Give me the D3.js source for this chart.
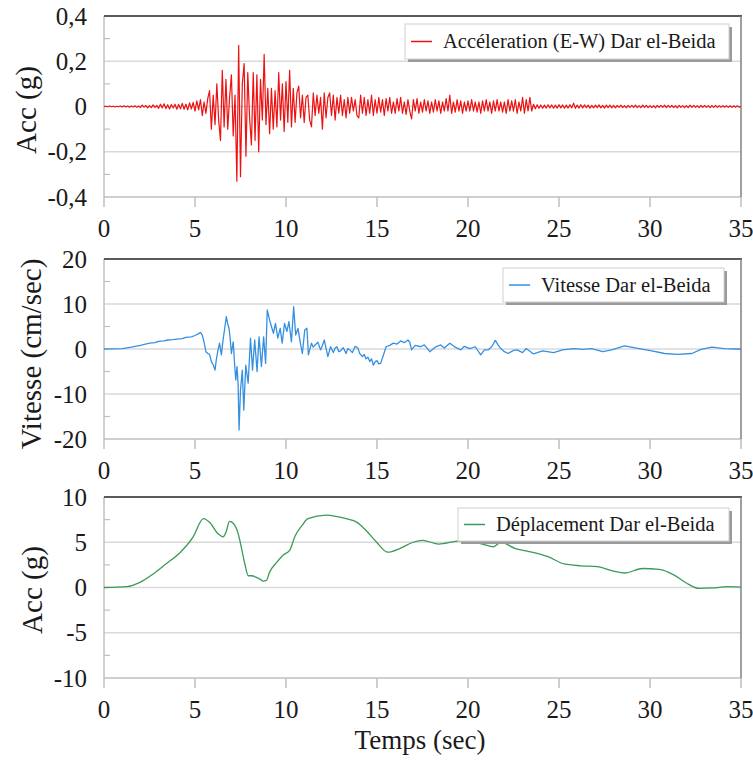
<!DOCTYPE html>
<html>
<head>
<meta charset="utf-8">
<script src="https://cdn.jsdelivr.net/npm/d3@7"></script>
<style>
  body { margin: 0; background: #fff; }
  svg { font-family: "Liberation Serif", "Times New Roman", serif; }
</style>
</head>
<body>
<div id="chart"></div>
<script>
// --- Data ---
const xTicks = [0, 5, 10, 15, 20, 25, 30, 35];
const accTicks = [-0.4, -0.2, 0, 0.2, 0.4];
const velTicks = [-20, -10, 0, 10, 20];
const dispTicks = [-10, -5, 0, 5, 10];

// acceleration (g), one sample every 0.1 s, one row per second
const ACC_STEP = 0.1;
const accValues = [
  0, 0.001, -0.001, 0.002, -0.001, 0.001, -0.002, 0.001, -0.001, 0.002,
  -0.002, 0.003, -0.002, 0.002, -0.003, 0.002, -0.002, 0.003, -0.003, 0.002,
  -0.004, 0.006, -0.003, 0.005, -0.006, 0.004, -0.005, 0.007, -0.004, 0.005,
  -0.008, 0.01, -0.006, 0.012, -0.009, 0.008, -0.011, 0.009, -0.007, 0.01,
  -0.012, 0.009, -0.01, 0.014, -0.012, 0.01, -0.015, 0.016, -0.011, 0.018,
  -0.02, 0.025, -0.015, 0.03, -0.04, 0.02, -0.03, 0.035, 0.07, -0.1,
  0.05, -0.08, 0.1, -0.06, -0.15, 0.16, -0.09, 0.12, -0.1, 0.04,
  0.14, -0.13, 0.05, -0.33, 0.27, -0.31, 0.1, 0.19, -0.22, 0.15,
  -0.05, -0.17, 0.15, -0.15, 0.14, -0.2, 0.12, -0.06, 0.23, -0.08,
  0.08, -0.12, 0.08, -0.1, 0.07, -0.09, 0.15, -0.06, 0.1, -0.11,
  0.11, -0.07, 0.16, -0.09, 0.08, -0.07, 0.06, 0.09, -0.05, 0.05,
  -0.07, 0.04, 0.05, -0.06, -0.09, 0.06, -0.04, 0.05, -0.03, 0.04,
  -0.1, 0.06, -0.05, 0.04, 0.06, -0.04, 0.05, -0.06, 0.04, -0.03,
  0.05, -0.04, 0.03, -0.05, 0.04, -0.03, 0.04, -0.02, 0.03, -0.04,
  -0.05, 0.05, -0.03, 0.04, -0.04, 0.03, -0.03, 0.05, -0.04, 0.03,
  -0.03, 0.04, -0.025, 0.03, -0.04, 0.035, -0.02, 0.04, -0.03, 0.02,
  -0.03, 0.035, -0.02, 0.04, -0.03, 0.02, -0.035, 0.03, -0.02, -0.055,
  0.03, -0.02, 0.035, -0.03, 0.02, -0.025, 0.03, -0.02, 0.025, -0.03,
  0.02, -0.025, 0.03, -0.02, 0.025, -0.03, 0.02, -0.02, 0.035, -0.02,
  0.05, -0.03, 0.02, -0.025, 0.03, -0.02, 0.025, -0.03, 0.02, -0.02,
  0.025, -0.02, 0.03, -0.02, 0.02, -0.025, 0.02, -0.03, 0.025, -0.02,
  0.03, -0.02, 0.02, -0.03, 0.025, -0.02, 0.03, -0.02, 0.02, -0.025,
  0.02, -0.03, 0.03, -0.02, 0.025, -0.02, 0.03, -0.03, 0.02, -0.02,
  0.04, -0.03, 0.03, -0.02, 0.04, -0.02, 0.01, -0.01, 0.008, -0.008,
  0.007, -0.008, 0.006, -0.007, 0.008, -0.006, 0.007, -0.008, 0.006, -0.007,
  0.008, -0.006, 0.007, -0.008, 0.006, -0.007, 0.008, -0.006, 0.015, -0.008,
  0.006, -0.007, 0.008, -0.006, 0.007, -0.005, 0.006, -0.007, 0.005, -0.006,
  0.006, -0.005, 0.007, -0.006, 0.005, -0.007, 0.006, -0.005, 0.006, -0.006,
  0.005, -0.006, 0.005, -0.004, 0.006, -0.005, 0.004, -0.006, 0.005, -0.004,
  0.005, -0.004, 0.006, -0.005, 0.004, -0.005, 0.006, -0.004, 0.005, -0.005,
  0.004, -0.005, 0.004, -0.006, 0.005, -0.004, 0.005, -0.004, 0.006, -0.005,
  0.005, -0.004, 0.005, -0.005, 0.004, -0.006, 0.005, -0.004, 0.004, -0.005,
  0.004, -0.005, 0.006, -0.004, 0.005, -0.004, 0.004, -0.005, 0.005, -0.004,
  0.005, -0.004, 0.004, -0.005, 0.004, -0.004, 0.005, -0.004, 0.004, -0.003,
  0.004, -0.003, 0.004, -0.004, 0.003, -0.004, 0.003, -0.003, 0.004, -0.003,
  0
];

// velocity (cm/sec): [time, value]
const velPoints = [
  [0, 0], [0.5, 0.02], [1, 0.1], [1.5, 0.4], [2, 0.8], [2.5, 1.3], [2.8, 1.4],
  [3, 1.7], [3.3, 1.8], [3.5, 2.0], [3.8, 2.1], [4, 2.2], [4.3, 2.3], [4.5, 2.6],
  [4.8, 2.7], [5, 3.0], [5.2, 3.4], [5.3, 3.7], [5.4, 3.1], [5.5, 1.5], [5.6, -0.6],
  [5.7, -1.0], [5.8, -1.2], [5.9, -2.8], [6.0, -3.5], [6.1, -4.7], [6.17, -2.4],
  [6.25, -0.5], [6.35, 1.3], [6.45, -1.3], [6.54, 2.0], [6.63, 4.5], [6.72, 7.2],
  [6.8, 5.5], [6.87, 4.6], [6.94, 2.0], [7.0, -1.0], [7.1, 1.6], [7.17, -3.0],
  [7.24, -6.9], [7.31, -3.9], [7.37, -8], [7.42, -18], [7.5, -9.1], [7.6, -4.7],
  [7.68, -13.6], [7.79, -3.6], [7.92, -7.6], [8.05, 2.4], [8.16, -4.7], [8.28, 2.0],
  [8.41, -5.0], [8.52, 2.7], [8.65, -3.9], [8.77, 2.7], [8.88, -3.2], [8.97, 8.7],
  [9.1, 6.4], [9.2, 5.0], [9.31, 3.5], [9.42, 5.7], [9.55, 2.4], [9.68, 4.6],
  [9.79, 1.3], [9.92, 5.7], [10.05, 3.9], [10.16, 6.1], [10.3, 1.6], [10.42, 9.4],
  [10.53, 3.1], [10.66, 4.6], [10.79, 1.3], [10.9, -1.0], [11.03, 4.2], [11.15, 4.6],
  [11.23, -1.3], [11.4, 1.3], [11.5, 0.4], [11.6, 0.9], [11.75, 1.5], [11.9, -0.2],
  [12.0, 0.8], [12.1, 2.0], [12.2, 0.2], [12.3, -1.7], [12.45, 0.5], [12.6, -0.8],
  [12.7, 0.2], [12.8, 0.5], [12.9, -0.6], [13.0, -0.4], [13.15, 0.3], [13.3, -1.0],
  [13.4, 0.1], [13.5, -0.2], [13.65, -0.8], [13.8, 0.6], [13.95, 0.2], [14.05, -1.0],
  [14.2, -1.7], [14.3, -1.2], [14.4, -2.2], [14.5, -1.8], [14.6, -2.8], [14.7, -2.2],
  [14.8, -3.6], [14.9, -2.8], [15.0, -2.6], [15.1, -3.3], [15.2, -3.2], [15.35, -1.4],
  [15.5, 0.5], [15.7, 0.8], [15.9, 1.3], [16.1, 1.1], [16.3, 1.8], [16.5, 1.4],
  [16.7, 2.0], [16.8, 1.5], [16.9, -0.2], [17.1, 0.8], [17.4, 0.5], [17.6, 0.9],
  [17.9, -0.6], [18.2, 0.4], [18.5, 0.9], [18.7, 0.2], [19.0, 1.3], [19.3, 0.4],
  [19.6, -0.2], [19.8, 0.6], [20.1, 0.1], [20.4, 0.5], [20.7, -1.3], [20.9, -0.2],
  [21.1, -0.2], [21.3, 0.5], [21.5, 1.9], [21.65, 0.9], [21.8, 0.1], [22.0, -0.6],
  [22.2, -1.0], [22.5, -0.3], [22.7, -0.2], [23.0, -0.8], [23.2, 0.1], [23.4, -0.5],
  [23.6, -1.1], [24.1, -0.4], [24.7, -0.8], [25.2, -0.2], [25.8, 0.1], [26.3, -0.1],
  [26.8, 0.1], [27.4, -0.6], [27.9, -0.2], [28.6, 0.7], [29.4, 0.1], [30.1, -0.4],
  [30.8, -1.0], [31.5, -1.2], [32.3, -1.0], [32.8, -0.1], [33.4, 0.4], [34.1, 0.1],
  [34.7, 0.0], [35, 0.0]
];

// displacement: [time, value]
const dispPoints = [
  [0, 0], [1.24, 0.1], [2.0, 0.6], [2.7, 1.5], [3.4, 2.6], [4.2, 3.9], [4.9, 5.6],
  [5.46, 7.6], [5.8, 7.2], [6.28, 5.9], [6.55, 5.6], [6.7, 6.1], [6.9, 7.3],
  [7.1, 7.1], [7.38, 5.9], [7.56, 4.3], [7.74, 2.6], [7.93, 1.3], [8.1, 1.3],
  [8.4, 1.1], [8.6, 0.9], [8.75, 0.7], [8.93, 0.8], [9.1, 1.7], [9.5, 2.8],
  [9.85, 3.6], [10.2, 4.1], [10.5, 5.7], [10.9, 6.9], [11.2, 7.6], [12.2, 8.0],
  [13.3, 7.6], [13.9, 7.2], [14.4, 6.3], [14.98, 5.0], [15.6, 3.9], [16.25, 4.3],
  [16.98, 5.0], [17.5, 5.2], [18.4, 4.8], [19.3, 5.1], [20.0, 5.2], [20.8, 4.8],
  [21.4, 4.5], [21.8, 5.0], [22.6, 4.3], [23.3, 4.0], [24.4, 3.4], [25.3, 2.6],
  [26.2, 2.4], [27.1, 2.3], [28.0, 1.8], [28.6, 1.6], [29.6, 2.1], [30.5, 2.0],
  [31.3, 1.4], [32.0, 0.5], [32.7, -0.1], [33.5, -0.05], [34.2, 0.1], [35, 0.05]
];

const panels = [
  {
    top: 16, bottom: 197, domain: [-0.4, 0.4], ticks: accTicks, minor: 0.1,
    points: accValues.map((v, i) => [i * ACC_STEP, v]),
    color: "#ee1111", width: 1.2, curve: d3.curveLinear,
    title: "Acc (g)", titleX: 26, titleY: 110,
    legend: "Accéleration (E-W) Dar el-Beida", lx: 405, ly: 24, lw: 324, lh: 35
  },
  {
    top: 259, bottom: 439, domain: [-20, 20], ticks: velTicks, minor: 5,
    points: velPoints, color: "#3590e0", width: 1.3, curve: d3.curveLinear,
    title: "Vitesse (cm/sec)", titleX: 31, titleY: 354,
    legend: "Vitesse Dar el-Beida", lx: 503, ly: 268, lw: 221, lh: 34
  },
  {
    top: 497, bottom: 678, domain: [-10, 10], ticks: dispTicks, minor: 2.5,
    points: dispPoints, color: "#3a9a58", width: 1.3, curve: d3.curveMonotoneX,
    title: "Acc (g)", titleX: 32, titleY: 590,
    legend: "Déplacement Dar el-Beida", lx: 458, ly: 508, lw: 271, lh: 33
  }
];

const W = 753, H = 760;
const left = 104, right = 741;
const fmt = d => d === 0 ? "0" : String(d).replace(".", ",");

const svg = d3.select("#chart").append("svg")
  .attr("width", W).attr("height", H);

const x = d3.scaleLinear().domain([0, 35]).range([left, right]);

panels.forEach(p => {
  const y = d3.scaleLinear().domain(p.domain).range([p.bottom, p.top]);
  const g = svg.append("g");

  // gridlines at inner major ticks
  g.selectAll(".grid")
    .data(p.ticks.filter(t => t !== p.domain[0] && t !== p.domain[1]))
    .join("line")
    .attr("x1", left).attr("x2", right)
    .attr("y1", d => y(d)).attr("y2", d => y(d))
    .attr("stroke", "#d9d9d9").attr("stroke-width", 1.5);

  // minor ticks inside on the y axis
  const minorVals = d3.range(p.domain[0] + p.minor, p.domain[1], p.minor * 2);
  g.selectAll(".minor")
    .data(minorVals)
    .join("line")
    .attr("x1", left).attr("x2", left + 6)
    .attr("y1", d => y(d)).attr("y2", d => y(d))
    .attr("stroke", "#bfbfbf").attr("stroke-width", 1.2);

  // frame: left / bottom axis lines, darker top / right
  g.append("line").attr("x1", left).attr("x2", left)
    .attr("y1", p.top).attr("y2", p.bottom)
    .attr("stroke", "#bfbfbf").attr("stroke-width", 1.5);
  g.append("line").attr("x1", left).attr("x2", right)
    .attr("y1", p.bottom).attr("y2", p.bottom)
    .attr("stroke", "#bfbfbf").attr("stroke-width", 1.5);
  g.append("line").attr("x1", left).attr("x2", right + 1)
    .attr("y1", p.top).attr("y2", p.top)
    .attr("stroke", "#5a5a5a").attr("stroke-width", 1.8);
  g.append("line").attr("x1", right).attr("x2", right)
    .attr("y1", p.top).attr("y2", p.bottom)
    .attr("stroke", "#808080").attr("stroke-width", 1.5);

  // x ticks below the axis
  g.selectAll(".xt")
    .data(xTicks)
    .join("line")
    .attr("x1", d => x(d)).attr("x2", d => x(d))
    .attr("y1", p.bottom).attr("y2", p.bottom + 10)
    .attr("stroke", "#bfbfbf").attr("stroke-width", 1.5);

  g.selectAll(".xl")
    .data(xTicks)
    .join("text")
    .attr("x", d => x(d)).attr("y", p.bottom + 40)
    .attr("text-anchor", "middle")
    .attr("font-size", 25).attr("fill", "#1a1a1a")
    .text(d => d);

  g.selectAll(".yl")
    .data(p.ticks)
    .join("text")
    .attr("x", 87).attr("y", d => y(d))
    .attr("dy", "0.34em")
    .attr("text-anchor", "end")
    .attr("font-size", 25).attr("fill", "#1a1a1a")
    .text(fmt);

  // axis title
  g.append("text")
    .attr("transform", `translate(${p.titleX},${p.titleY}) rotate(-90)`)
    .attr("text-anchor", "middle")
    .attr("dy", "0.35em")
    .attr("font-size", 29).attr("fill", "#1a1a1a")
    .text(p.title);

  // series
  const line = d3.line().curve(p.curve).x(d => x(d[0])).y(d => y(d[1]));
  g.append("path")
    .datum(p.points)
    .attr("d", line)
    .attr("fill", "none")
    .attr("stroke", p.color)
    .attr("stroke-width", p.width)
    .attr("stroke-linejoin", "round");

  // legend box with shadow
  const lg = g.append("g").attr("transform", `translate(${p.lx},${p.ly})`);
  lg.append("rect")
    .attr("x", 3).attr("y", 3)
    .attr("width", p.lw).attr("height", p.lh)
    .attr("fill", "#9a9a9a");
  lg.append("rect")
    .attr("width", p.lw).attr("height", p.lh)
    .attr("fill", "#fff").attr("stroke", "#d0d0d0").attr("stroke-width", 1);
  lg.append("line")
    .attr("x1", 6).attr("x2", 27)
    .attr("y1", p.lh / 2).attr("y2", p.lh / 2)
    .attr("stroke", p.color).attr("stroke-width", 1.5);
  lg.append("text")
    .attr("x", 38).attr("y", p.lh / 2)
    .attr("dy", "0.33em")
    .attr("font-size", 20.5).attr("fill", "#1a1a1a")
    .text(p.legend);
});

svg.append("text")
  .attr("x", 420).attr("y", 749)
  .attr("text-anchor", "middle")
  .attr("font-size", 27).attr("fill", "#1a1a1a")
  .text("Temps (sec)");
</script>
</body>
</html>
